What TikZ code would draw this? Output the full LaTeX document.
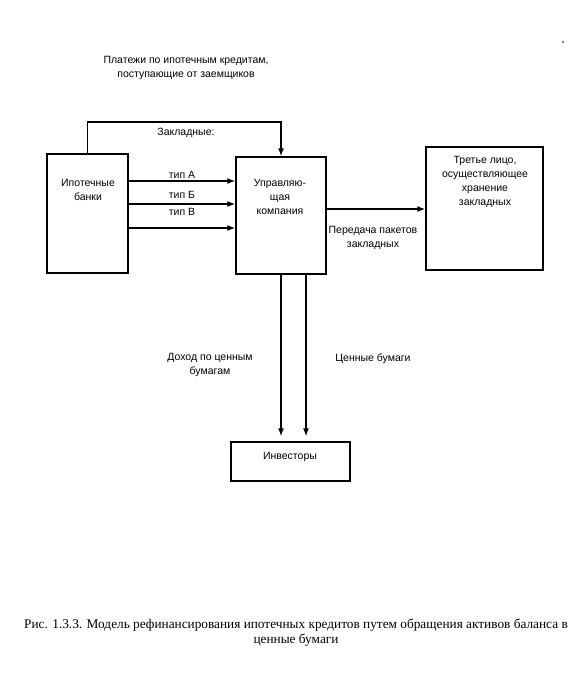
\documentclass[tikz,border=0pt]{standalone}
\usepackage{fontspec}
\setmainfont{Liberation Sans}
\newfontfamily\capfont{Liberation Serif}
\usetikzlibrary{arrows.meta}
\begin{document}
\begin{tikzpicture}[x=1pt,y=-1pt,
  box/.style={draw,line width=1.3pt,inner sep=0pt,minimum width=#1},
  lbl/.style={align=center,inner sep=0pt,font=\fontsize{10.5}{14}\selectfont},
  arr/.style={line width=1.3pt,-{Latex[length=8pt,width=6pt]}},
  ln/.style={line width=1.3pt}]
\useasboundingbox (0,0) rectangle (577,683);
% boxes
\node[box=81pt,minimum height=119pt] (banks) at (87.5,213.5) {};
\node[box=90pt,minimum height=117pt] (comp) at (281,215.5) {};
\node[box=117pt,minimum height=123pt] (third) at (484.5,208.5) {};
\node[box=119pt,minimum height=39pt] (inv) at (290.5,461.5) {};
% box texts
\node[lbl] (tbanks) at (88,190) {Ипотечные\\банки};
\node[lbl] (tcomp) at (280,197) {Управляю-\\щая\\компания};
\node[lbl] (tthird) at (485,182) {Третье лицо,\\осуществляющее\\хранение\\закладных};
\node[lbl] (tinv) at (290,457) {Инвесторы};
% top text and feedback
\node[lbl] (tpay) at (186,68) {Платежи по ипотечным кредитам,\\поступающие от заемщиков};
\coordinate (top) at (0,122);
\draw[arr] (banks.north) -- (banks.north |- top) -| (comp.north);
\node[lbl] (tzakl) at (186,133) {Закладные:};
% type arrows
\coordinate (yA) at (0,181);
\coordinate (yB) at (0,204);
\coordinate (yC) at (0,228);
\draw[arr] (banks.east |- yA) -- (comp.west |- yA);
\draw[arr] (banks.east |- yB) -- (comp.west |- yB);
\draw[arr] (banks.east |- yC) -- (comp.west |- yC);
\node[lbl] (ta) at (182,175) {тип А};
\node[lbl] (tb) at (182,195) {тип Б};
\node[lbl] (tc) at (182,212) {тип В};
% to third party
\coordinate (yT) at (0,209);
\draw[arr] (comp.east |- yT) -- (third.west |- yT);
\node[lbl] (tpered) at (373,238) {Передача пакетов\\закладных};
% down arrows
\coordinate (x1) at (281,0);
\coordinate (x2) at (306,0);
\draw[arr,shorten >=5pt] (comp.south -| x1) -- (inv.north -| x1);
\draw[arr,shorten >=5pt] (comp.south -| x2) -- (inv.north -| x2);
\node[lbl] (tdoh) at (210,365) {Доход по ценным\\бумагам};
\node[lbl] (tcen) at (373,359) {Ценные бумаги};
% speck
\fill (563,42) circle (0.8pt);
% caption
\node[align=center,inner sep=0pt,font=\capfont\fontsize{13.3}{15}\selectfont] (cap) at (296,633)
  {Рис. 1.3.3. Модель рефинансирования ипотечных кредитов путем обращения активов баланса в\\ценные бумаги};
\end{tikzpicture}
\end{document}
